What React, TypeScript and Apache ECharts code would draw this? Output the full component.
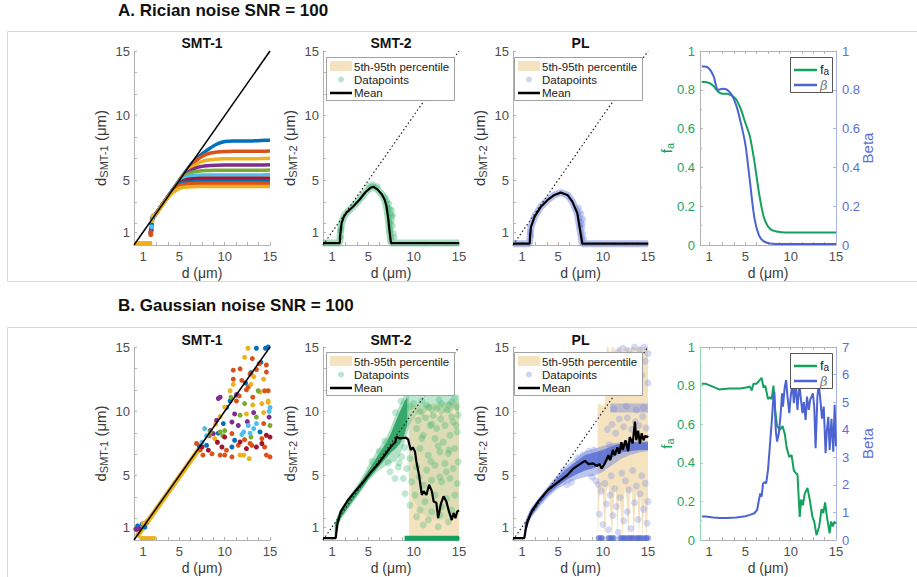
import React, { useEffect, useRef } from "react";
import * as echarts from "echarts";

const FONT = '"Liberation Sans", Arial, Helvetica, sans-serif';
const MC = ["#0072BD", "#D95319", "#EDB120", "#7E2F8E", "#77AC30", "#4DBEEE", "#A2142F"];
const GREEN = "#13a15d";
const BLUE = "#4c63d2";
const WHEAT = "#F5E3BF";
const AXC = "#b3b3b3";
const LBL = "#4d4d4d";

const xLabelVals = [1, 5, 10, 15];
const yLabelVals = [1, 5, 10, 15];
const xTickVals = [1, 2.5, 3.75, 5, 6.25, 7.5, 8.75, 10, 11.25, 12.5, 13.75, 15];
const yTickVals = [1, 1.67, 3.33, 5, 6.67, 8.33, 10, 11.67, 13.33, 15];
const identityLine = [[0, 0], [15, 15]];

// ---------- A. SMT-1 ----------
const a1D = [1.9, 2.5, 3, 4, 5, 5.5, 6, 6.5, 7, 7.5, 8, 9, 10, 11, 12, 13, 14, 15];
const a1Curves = [
  [1.9, 2.5, 3, 4, 5, 5.5, 5.97, 6.4, 6.75, 7.05, 7.3, 7.75, 8.0, 8.05, 8.05, 8.05, 8.08, 8.1],
  [1.9, 2.5, 3, 4, 5, 5.45, 5.88, 6.28, 6.6, 6.85, 7.02, 7.17, 7.22, 7.24, 7.25, 7.25, 7.25, 7.27],
  [1.9, 2.5, 3, 4, 4.97, 5.4, 5.78, 6.06, 6.3, 6.45, 6.55, 6.63, 6.66, 6.67, 6.67, 6.67, 6.68, 6.7],
  [1.9, 2.5, 3, 4, 4.95, 5.35, 5.64, 5.86, 6.0, 6.08, 6.13, 6.17, 6.18, 6.18, 6.18, 6.18, 6.18, 6.2],
  [1.9, 2.5, 3, 4, 4.92, 5.28, 5.5, 5.63, 5.7, 5.74, 5.76, 5.78, 5.78, 5.78, 5.78, 5.78, 5.78, 5.8],
  [1.9, 2.5, 3, 3.98, 4.86, 5.15, 5.3, 5.37, 5.4, 5.42, 5.42, 5.42, 5.42, 5.42, 5.42, 5.42, 5.42, 5.43],
  [1.9, 2.5, 3, 3.96, 4.78, 4.98, 5.08, 5.13, 5.15, 5.16, 5.16, 5.16, 5.16, 5.16, 5.16, 5.16, 5.16, 5.17],
  [1.9, 2.5, 3, 3.95, 4.7, 4.83, 4.88, 4.9, 4.92, 4.92, 4.92, 4.92, 4.92, 4.92, 4.92, 4.92, 4.92, 4.93],
  [1.9, 2.5, 3, 3.93, 4.58, 4.69, 4.73, 4.76, 4.77, 4.77, 4.77, 4.77, 4.77, 4.77, 4.77, 4.77, 4.77, 4.78],
  [1.88, 2.46, 2.95, 3.88, 4.38, 4.46, 4.49, 4.51, 4.52, 4.52, 4.52, 4.52, 4.52, 4.52, 4.52, 4.52, 4.52, 4.53],
];
const a1CurveColor = [0, 1, 2, 3, 4, 5, 6, 0, 1, 2];
const a1Floor = [[0, 0.15], [2.0, 0.15]];
const a1Cluster = [[1.85, 1.0], [1.95, 1.6], [2.05, 2.1], [1.85, 0.8], [1.9, 1.3], [1.9, 1.15], [2.0, 1.9], [2.1, 2.25], [1.95, 1.4], [1.85, 0.95]];
const a1ClusterColor = [0, 0, 0, 1, 1, 3, 2, 2, 5, 1];

// ---------- A. SMT-2 ----------
const a2MeanD = [0, 1.85, 1.9, 2.05, 2.3, 2.6, 3.3, 4.0, 4.7, 5.2, 5.55, 6.0, 6.5, 6.8, 7.0, 7.2, 7.35, 7.5, 15];
const a2Mean = [0.15, 0.15, 0.8, 1.7, 2.2, 2.5, 2.96, 3.48, 4.1, 4.4, 4.5, 4.3, 3.9, 3.5, 3.0, 2.0, 1.0, 0.15, 0.15];
const a2Extra = [[7.4, 2.8], [7.5, 2.4], [7.6, 1.9], [7.7, 1.5], [7.5, 1.2], [7.8, 0.9], [7.3, 3.2], [7.6, 2.2], [7.9, 0.6], [6.9, 3.7], [7.1, 3.4], [1.9, 1.1], [1.95, 0.6], [2.0, 1.3], [5.5, 4.7], [5.0, 4.6], [6.0, 4.55], [7.6, 2.7], [7.7, 2.3], [7.45, 1.7], [7.2, 2.9]];
const a2BandD = [6.8, 7.0, 7.2, 7.4, 7.6, 7.8];
const a2BandLo = [3.2, 2.2, 0.5, 0.15, 0.15, 0.15];
const a2BandHi = [3.7, 3.3, 3.0, 2.4, 1.2, 0.3];

// ---------- A. PL ----------
const plAMeanD = [0, 1.85, 1.9, 2.0, 2.4, 3.1, 3.85, 4.6, 5.3, 6.05, 6.6, 7.15, 7.45, 7.7, 15];
const plAMean = [0.1, 0.1, 0.7, 1.4, 2.2, 2.96, 3.48, 3.87, 4.05, 3.87, 3.35, 2.45, 1.16, 0.1, 0.1];
const plAExtra = [[7.4, 2.6], [7.5, 2.1], [7.6, 1.8], [7.7, 1.3], [7.8, 0.9], [7.5, 1.5], [7.3, 2.9], [7.8, 2.0], [2.0, 0.7], [1.9, 1.0], [7.9, 0.5], [7.6, 2.4], [7.75, 1.6]];
const plABandD = [7.0, 7.3, 7.5, 7.7, 7.9];
const plABandLo = [2.6, 1.2, 0.1, 0.1, 0.1];
const plABandHi = [3.1, 2.6, 2.0, 1.0, 0.3];

// ---------- A. fa / beta ----------
const faAD = [0.2, 0.5, 1, 1.5, 2, 2.5, 3, 3.5, 4, 4.5, 5, 5.5, 6, 6.5, 7, 7.5, 8, 9, 10, 12, 15];
const faA = [0.84, 0.84, 0.835, 0.82, 0.79, 0.78, 0.78, 0.77, 0.75, 0.7, 0.63, 0.56, 0.43, 0.27, 0.15, 0.095, 0.075, 0.066, 0.065, 0.065, 0.065];
const betaA = [0.92, 0.92, 0.91, 0.87, 0.8, 0.805, 0.8, 0.775, 0.72, 0.63, 0.52, 0.33, 0.14, 0.05, 0.02, 0.01, 0.006, 0.005, 0.005, 0.005, 0.005];

// ---------- B. SMT-1 ----------
const b1Blue = [[9.85, 9.05], [13.9, 8.4], [11.1, 7.75], [8.0, 7.36], [10.8, 7.23], [13.5, 14.9], [14.5, 14.9], [14.0, 13.8], [7.2, 7.3], [10.2, 10.3], [10.6, 10.8], [12.3, 12.2], [12.9, 13.0], [14.8, 15.0], [9.3, 8.3], [0.4, 1.1], [0.9, 1.25], [1.2, 1.0]];
const b1Orange = [[12.4, 11.68], [11.6, 11.2], [11.3, 10.8], [13.1, 11.1], [14.4, 11.6], [14.3, 9.05], [10.8, 8.27], [12.2, 7.8], [12.8, 7.5], [14.1, 7.88], [6.9, 7.5], [10.2, 6.98], [11.5, 7.36], [13.0, 7.36], [14.4, 7.23], [7.6, 6.6], [8.6, 6.7], [9.5, 6.6], [10.0, 6.6], [10.8, 6.46], [14.6, 6.6], [15.0, 6.46], [13.05, 14.1], [14.6, 13.6], [10.95, 13.2], [11.7, 13.3], [13.5, 13.25], [14.6, 13.05], [10.95, 12.5], [11.9, 12.4], [12.6, 11.9], [14.8, 11.6], [12.8, 12.9], [13.8, 13.7], [0.3, 0.8], [1.4, 1.4], [7.3, 7.0], [8.3, 8.1]];
const b1Yellow = [[10.95, 12.1], [12.9, 12.1], [10.0, 10.33], [13.1, 10.5], [14.1, 10.6], [14.8, 10.7], [13.9, 11.5], [12.4, 9.8], [8.9, 7.88], [11.7, 6.6], [12.1, 6.6], [12.7, 6.33], [12.57, 14.9], [12.2, 14.2], [13.2, 12.7], [14.3, 12.5], [10.6, 11.6], [11.3, 11.25], [14.8, 10.8], [9.0, 9.0], [9.5, 9.6], [1.0, 1.3], [1.5, 1.5], [14.3, 9.9]];
const b1Purple = [[9.3, 11.0], [11.1, 9.8], [14.9, 9.55], [9.1, 9.3], [10.8, 9.17], [11.5, 8.9], [8.75, 8.27], [9.5, 11.1], [8.4, 8.5], [11.3, 11.3], [0.2, 0.85], [0.6, 0.9], [12.5, 9.2], [13.2, 9.9]];
const b1Green = [[10.7, 11.1], [12.2, 10.6], [11.7, 9.7], [13.5, 9.55], [15.0, 8.9], [8.4, 8.4], [9.5, 8.4], [10.0, 8.5], [13.7, 11.6], [9.8, 8.1], [12.9, 8.0]];
const b1Cyan = [[15.0, 10.3], [12.6, 8.9], [13.5, 9.05], [7.8, 8.66], [12.1, 8.4], [12.8, 8.3], [13.2, 8.66], [7.5, 7.6], [8.0, 8.1], [14.9, 10.0], [11.9, 8.2]];
const b1DarkRed = [[14.6, 8.14], [10.0, 8.0], [11.7, 7.62], [15.0, 8.0], [7.5, 7.23], [9.7, 7.23], [13.5, 7.23], [14.1, 7.5], [8.2, 6.98], [12.4, 7.1], [9.2, 7.6]];
const b1DiagBand = [[0.3, 0.25], [7.2, 7.1]];
const b1Floor = [[0.6, 0.15], [2.4, 0.15]];

// ---------- B. SMT-2 ----------
const b2Mean = [[0, 0.15], [1.4, 0.15], [1.6, 1.3], [1.95, 2.2], [2.7, 3.05], [3.5, 3.75], [4.6, 4.65], [5.2, 5.2], [6.0, 5.85], [6.65, 6.45], [7.6, 7.35], [7.97, 7.6], [8.1, 8.0], [8.5, 7.9], [9.15, 7.95], [9.4, 7.8], [9.67, 7.0], [9.9, 7.2], [10.15, 6.85], [10.3, 6.1], [10.6, 5.0], [10.9, 3.5], [11.1, 3.8], [11.4, 3.5], [11.7, 4.3], [12.0, 3.8], [12.2, 3.0], [12.5, 2.9], [12.7, 1.7], [13.0, 2.8], [13.3, 3.4], [13.6, 3.0], [13.9, 2.2], [14.2, 1.55], [14.4, 2.1], [14.6, 1.7], [14.8, 2.2], [15.0, 2.3]];
const b2HaloD = [1.3, 1.6, 2, 3, 4, 5, 6, 7, 7.5, 8, 8.5, 9, 9.5];
const b2HaloLo = [0.2, 1.0, 1.6, 2.6, 3.6, 4.6, 5.3, 5.8, 6.0, 6.1, 6.6, 7.6, 8.8];
const b2HaloHi = [1.3, 1.9, 2.5, 3.5, 4.5, 5.8, 7.0, 8.0, 8.8, 9.7, 10.6, 11.3, 11.3];
const b2CoreD = [1.3, 1.6, 2, 3, 4, 5, 6, 7, 7.5, 8, 8.5, 9, 9.3];
const b2CoreLo = [0.3, 1.1, 1.75, 2.75, 3.7, 4.7, 5.55, 6.4, 6.8, 7.1, 7.5, 8.2, 9.0];
const b2CoreHi = [1.2, 1.8, 2.35, 3.3, 4.35, 5.4, 6.5, 7.6, 8.3, 9.2, 10.0, 10.8, 11.1];
const b2TopD = [9.3, 10, 10.5, 11, 11.5, 12, 12.5, 13, 13.5, 14, 14.5, 15];
const b2TopLo = [8.8, 9.4, 9.9, 9.6, 10.1, 9.8, 10.2, 9.6, 10.0, 9.8, 10.3, 9.5];
const b2TopHi = [11.3, 11.3, 11.3, 11.3, 11.3, 11.3, 11.3, 11.3, 11.3, 11.3, 11.3, 11.3];
const b2MidD = [9.3, 10, 11, 12, 13, 14, 15];
const b2MidLo = [5.5, 3.0, 2.0, 1.6, 1.5, 1.8, 2.0];
const b2MidHi = [9.0, 9.5, 9.7, 9.8, 9.7, 9.8, 9.6];
const b2BandD = [9.5, 15];
const b2BandLo = [0.13, 0.13];
const b2BandHi = [10.4, 10.8];
const b2Floor = [[9.0, 0.13], [15, 0.13]];
const b2Sparse = [[10.69, 9.95], [11.43, 10.47], [12.16, 9.69], [12.53, 10.2], [13.08, 10.6], [13.64, 10.08], [14.19, 10.72], [14.74, 10.34], [14.92, 9.69], [11.8, 8.91], [12.53, 8.66], [13.45, 8.91], [14.37, 9.17], [10.33, 8.66], [11.06, 8.14], [12.35, 7.88], [13.27, 7.62], [14.0, 8.14], [14.81, 8.4], [10.69, 7.11], [11.61, 6.59], [12.9, 6.85], [13.82, 6.72], [14.55, 7.11], [9.59, 6.33], [10.33, 5.68], [11.43, 5.43], [12.35, 5.81], [13.45, 5.94], [14.37, 5.56], [14.92, 6.07], [8.86, 4.78], [9.78, 4.52], [11.06, 4.26], [11.98, 4.65], [13.08, 4.52], [14.0, 4.78], [14.81, 4.39], [9.04, 3.62], [10.14, 3.49], [11.25, 2.97], [12.35, 3.49], [13.64, 3.23], [14.55, 3.49], [9.59, 2.71], [10.69, 2.32], [11.98, 2.2], [13.08, 2.58], [14.19, 2.32], [10.33, 1.81], [11.61, 1.55], [12.9, 1.94], [13.82, 1.42], [11.06, 1.16], [12.71, 1.03], [8.3, 5.68], [8.67, 6.46], [7.39, 5.3], [7.94, 4.78], [9.22, 5.56], [10.0, 10.6], [10.9, 10.8], [11.7, 10.3], [12.8, 10.9], [13.9, 10.5], [14.5, 11.0], [9.6, 10.4], [10.5, 9.3], [11.3, 9.5], [12.0, 9.0], [13.0, 9.4], [14.2, 9.6], [14.7, 8.9], [10.9, 7.9], [12.7, 7.3], [13.9, 7.0], [11.9, 6.1], [10.6, 4.9], [12.9, 4.9], [13.6, 5.3], [6.2, 6.9], [6.8, 7.7], [5.4, 6.1], [7.2, 6.0], [8.0, 9.9], [8.6, 10.8], [9.0, 7.2], [8.4, 6.0]];

// ---------- B. PL ----------
const plBMean = [[0, 0.15], [1.26, 0.15], [1.4, 0.78], [1.6, 1.4], [2.07, 2.2], [2.8, 3.0], [3.9, 3.9], [5.0, 4.5], [5.97, 5.0], [6.7, 5.55], [7.44, 5.9], [8.0, 6.15], [8.4, 5.9], [8.9, 5.95], [9.3, 5.75], [9.6, 5.9], [9.85, 5.55], [10.2, 5.95], [10.6, 6.6], [10.8, 6.2], [11.1, 7.0], [11.3, 6.6], [11.6, 7.2], [11.8, 6.7], [12.05, 7.6], [12.2, 7.0], [12.5, 7.75], [12.8, 6.9], [12.97, 8.0], [13.3, 7.5], [13.55, 9.2], [13.7, 7.75], [13.9, 8.5], [14.1, 7.5], [14.3, 8.3], [14.5, 7.75], [14.7, 8.1], [14.9, 8.0], [15, 8.1]];
const plBHaloD = [1.3, 1.6, 2, 3, 4, 5, 6, 7, 8, 9, 10, 11, 12, 13, 14, 15];
const plBHaloLo = [0.2, 1.0, 1.7, 2.6, 3.4, 4.0, 4.4, 4.7, 4.9, 5.0, 5.3, 5.8, 6.3, 6.6, 6.8, 6.9];
const plBHaloHi = [1.3, 1.9, 2.5, 3.4, 4.3, 5.1, 5.8, 6.4, 6.9, 7.1, 7.3, 7.5, 7.6, 7.7, 7.7, 7.7];
const plBCoreD = [1.3, 1.6, 2, 3, 4, 5, 6, 7, 8, 9, 10, 11, 12, 13, 14, 15];
const plBCoreLo = [0.3, 1.1, 1.85, 2.8, 3.6, 4.2, 4.7, 5.1, 5.4, 5.6, 5.9, 6.4, 6.8, 6.9, 7.0, 7.0];
const plBCoreHi = [1.2, 1.8, 2.4, 3.25, 4.15, 4.9, 5.55, 6.1, 6.6, 6.8, 7.0, 7.3, 7.5, 7.6, 7.6, 7.6];
const plBUpD = [10.8, 15];
const plBUpLo = [9.9, 9.9];
const plBUpHi = [10.6, 10.6];
const plBBandD = [9.4, 9.6, 9.8, 10.0, 10.2, 10.4, 10.6, 10.8, 11.0, 11.2, 11.4, 11.6, 11.8, 12.0, 12.2, 12.4, 12.6, 12.8, 13.0, 13.2, 13.4, 13.6, 13.8, 14.0, 14.2, 14.4, 14.6, 14.8, 15.0];
const plBBandLo = [0.1, 3.2, 4.0, 3.5, 0.1, 3.8, 4.2, 2.5, 0.1, 3.0, 4.5, 0.1, 3.8, 2.0, 0.1, 4.0, 3.2, 0.1, 3.5, 4.2, 0.1, 2.8, 4.0, 0.1, 3.5, 0.1, 3.0, 0.1, 2.5];
const plBBandHi = [10.5, 10.6, 10.5, 10.4, 10.6, 15, 15, 14.5, 15, 15, 13.8, 15, 15, 15, 14.2, 15, 15, 15, 14.5, 15, 15, 15, 14.8, 15, 15, 14.6, 15, 15, 15];
const plBSparse = [[9.6, 2.0], [9.8, 3.8], [10.0, 1.2], [10.2, 4.4], [10.4, 2.8], [10.6, 0.8], [10.8, 3.5], [10.9, 5.0], [11.1, 1.9], [11.3, 4.0], [11.5, 2.6], [11.7, 0.6], [11.9, 3.3], [12.1, 5.2], [12.3, 1.5], [12.5, 4.6], [12.7, 2.2], [12.9, 3.9], [13.1, 0.9], [13.3, 5.4], [13.5, 2.9], [13.7, 4.2], [13.9, 1.6], [14.1, 3.6], [14.3, 5.0], [14.5, 2.4], [14.7, 4.4], [14.9, 1.3], [15.0, 3.0], [10.5, 8.6], [11.0, 9.0], [11.4, 8.3], [11.8, 9.4], [12.3, 8.8], [12.7, 9.5], [13.2, 8.6], [13.6, 9.2], [14.0, 8.9], [14.4, 9.6], [14.8, 8.7], [10.8, 11.5], [11.3, 12.4], [11.9, 11.8], [12.4, 13.0], [12.9, 12.0], [13.4, 13.5], [13.8, 11.6], [14.3, 12.8], [14.7, 13.9], [15.0, 12.2], [11.6, 14.6], [12.2, 14.9], [12.9, 14.7], [13.5, 15.0], [14.1, 14.8], [14.6, 15.0], [15.0, 14.5], [9.2, 4.6], [8.8, 4.9], [9.5, 4.3], [10.1, 6.8], [10.7, 7.4], [8.4, 6.9], [9.0, 7.0], [7.8, 6.6], [11.2, 10.2], [12.6, 10.4], [13.7, 10.1], [14.5, 10.3], [6.5, 4.5], [7.2, 6.4], [5.6, 5.4], [6.0, 4.3]];
const plBFloorD = [9.5, 9.7, 9.9, 10.6, 10.8, 11.0, 11.2, 11.9, 12.1, 12.3, 12.5, 12.8, 13.0, 13.2, 13.4, 13.7, 13.9, 14.1, 14.3, 14.6, 14.8, 15.0];
const plBFloorV = 0.15;

// ---------- B. fa / beta ----------
const faB = [[0.2, 0.81], [0.6, 0.81], [1.4, 0.795], [2.1, 0.78], [3.2, 0.785], [4.4, 0.785], [5.1, 0.79], [5.5, 0.795], [5.7, 0.775], [5.9, 0.81], [6.25, 0.81], [6.6, 0.83], [6.8, 0.84], [7.0, 0.79], [7.2, 0.8], [7.5, 0.73], [7.7, 0.74], [7.9, 0.73], [8.1, 0.8], [8.3, 0.67], [8.5, 0.59], [8.8, 0.57], [9.1, 0.59], [9.35, 0.55], [9.55, 0.48], [9.85, 0.43], [10.1, 0.44], [10.35, 0.36], [10.6, 0.345], [10.75, 0.34], [11.0, 0.12], [11.15, 0.21], [11.35, 0.18], [11.55, 0.24], [11.85, 0.27], [12.1, 0.21], [12.4, 0.12], [12.6, 0.095], [12.85, 0.025], [13.15, 0.07], [13.4, 0.16], [13.6, 0.14], [13.8, 0.195], [14.0, 0.12], [14.3, 0.035], [14.45, 0.095], [14.65, 0.07], [14.8, 0.095], [15.0, 0.085]];
const betaB = [[0.2, 0.85], [0.6, 0.85], [1.5, 0.82], [2.2, 0.8], [3.0, 0.8], [4.0, 0.82], [5.0, 0.86], [5.5, 0.91], [6.0, 0.97], [6.3, 1.09], [6.5, 1.45], [6.65, 1.69], [6.8, 1.57], [6.95, 2.05], [7.15, 2.1], [7.3, 2.05], [7.5, 2.54], [7.7, 3.39], [7.9, 4.23], [8.1, 5.2], [8.2, 5.38], [8.35, 3.99], [8.5, 3.57], [8.7, 3.87], [8.9, 4.59], [9.05, 5.32], [9.15, 4.84], [9.35, 5.56], [9.5, 5.8], [9.65, 5.2], [9.85, 4.6], [10.0, 5.2], [10.2, 5.68], [10.35, 4.96], [10.55, 5.68], [10.75, 4.72], [10.95, 5.68], [11.1, 5.2], [11.3, 4.6], [11.45, 5.0], [11.65, 4.35], [11.8, 5.2], [12.0, 4.72], [12.15, 5.08], [12.45, 5.32], [12.6, 4.84], [12.75, 3.33], [12.95, 5.2], [13.1, 5.68], [13.3, 5.0], [13.45, 4.4], [13.65, 4.84], [13.85, 3.15], [14.0, 3.99], [14.15, 4.47], [14.3, 3.27], [14.5, 4.4], [14.7, 3.2], [14.85, 4.9], [15.0, 3.4]];

// ---------- layout ----------
const COL_LEFT = [134, 323, 513, 700];
const COL_W = [136, 136, 135, 136];
const ROW_TOP = [51, 347];
const ROW_H = [194, 193];

function gridBox(i: number) {
  const r = Math.floor(i / 4), c = i % 4;
  return { left: COL_LEFT[c], top: ROW_TOP[r], width: COL_W[c], height: ROW_H[r] };
}

function xAx(gi: number) {
  return {
    type: "value", gridIndex: gi, min: 0, max: 15, position: "bottom",
    axisLine: { show: true, onZero: false, lineStyle: { color: AXC, width: 1 } },
    axisTick: { show: true, inside: true, length: 3, customValues: xTickVals, lineStyle: { color: AXC } },
    axisLabel: { show: true, customValues: xLabelVals, margin: 5, fontSize: 13, color: LBL, fontFamily: FONT },
    splitLine: { show: false },
  };
}
function topAx(gi: number) {
  return {
    type: "value", gridIndex: gi, min: 0, max: 15, position: "top",
    axisLine: { show: true, onZero: false, lineStyle: { color: AXC, width: 1 } },
    axisTick: { show: true, inside: true, length: 3, customValues: xTickVals, lineStyle: { color: AXC } },
    axisLabel: { show: false },
    splitLine: { show: false },
  };
}
function smtY(gi: number) {
  return {
    type: "value", gridIndex: gi, min: 0, max: 15,
    axisLine: { show: true, onZero: false, lineStyle: { color: AXC, width: 1 } },
    axisTick: { show: true, inside: true, length: 3, customValues: yTickVals, lineStyle: { color: AXC } },
    axisLabel: { show: true, customValues: yLabelVals, margin: 4, fontSize: 13, color: LBL, fontFamily: FONT },
    splitLine: { show: false },
  };
}
function faLeft(gi: number, lineColor: string) {
  return {
    type: "value", gridIndex: gi, min: 0, max: 1, interval: 0.2,
    axisLine: { show: true, onZero: false, lineStyle: { color: lineColor, width: 1 } },
    axisTick: { show: true, inside: true, length: 3, lineStyle: { color: lineColor } },
    minorTick: { show: true, splitNumber: 2, length: 2, lineStyle: { color: lineColor } },
    axisLabel: { show: true, margin: 5, fontSize: 13, color: "#1aa463", fontFamily: FONT },
    splitLine: { show: false }, minorSplitLine: { show: false },
  };
}
function faRight(gi: number, max: number, interval: number) {
  return {
    type: "value", gridIndex: gi, min: 0, max, interval, position: "right",
    axisLine: { show: true, onZero: false, lineStyle: { color: "#a9b4ee", width: 1 } },
    axisTick: { show: true, inside: true, length: 3, lineStyle: { color: "#a9b4ee" } },
    axisLabel: { show: true, margin: 6, fontSize: 13, color: "#5b6fd6", fontFamily: FONT },
    splitLine: { show: false },
  };
}

function line(xi: number, yi: number, data: any, color: string, width: number, extra: any = {}) {
  return {
    type: "line", xAxisIndex: xi, yAxisIndex: yi, data, symbol: "none", silent: true,
    lineStyle: { color, width, ...(extra.lineStyle || {}) },
    z: extra.z ?? 3, smooth: extra.smooth ?? false,
  };
}
function scatter(xi: number, yi: number, data: any, color: string, size: number, opacity: number, z = 2) {
  return {
    type: "scatter", xAxisIndex: xi, yAxisIndex: yi, data, symbol: "circle", symbolSize: size, silent: true,
    itemStyle: { color, opacity }, z,
  };
}
function band(xi: number, yi: number, d: number[], lo: number[], hi: number[], color: string, opacity: number, z = 1) {
  return {
    type: "custom", xAxisIndex: xi, yAxisIndex: yi, silent: true, z,
    data: d.map((x, i) => [x, lo[i], hi[i]]),
    encode: { x: 0, y: [1, 2] },
    renderItem: (params: any, api: any) => {
      if (params.dataIndex !== 0) return null;
      const top = d.map((x, i) => api.coord([x, hi[i]]));
      const bot = d.map((x, i) => api.coord([x, lo[i]])).reverse();
      return { type: "polygon", shape: { points: top.concat(bot) }, style: { fill: color, opacity } };
    },
  };
}
const zip = (d: number[], v: number[]) => d.map((x, i) => [x, v[i]]);

function ylab(x: number, y: number, main: string, sub: string, tail: string, color: string) {
  return {
    type: "text", x, y, rotation: Math.PI / 2, z: 50, silent: true,
    style: {
      text: `{m|${main}}{s|${sub}}{m|${tail}}`, align: "center", verticalAlign: "middle",
      rich: {
        m: { fontSize: 15, fontFamily: FONT, fill: color, lineHeight: 18 },
        s: { fontSize: 11, fontFamily: FONT, fill: color, lineHeight: 12, verticalAlign: "bottom", padding: [12, 0, 0, 0] },
      },
    },
  };
}
function txt(x: number, y: number, text: string, font: string, fill: string, align = "center", z = 50) {
  return { type: "text", x, y, z, silent: true, style: { text, font, fill, align, verticalAlign: "middle" } };
}
function smtLegend(x: number, y: number, dotColor: string) {
  const f = `11.5px ${FONT}`;
  return [
    { type: "rect", z: 100, silent: true, shape: { x: x + 0.5, y: y + 0.5, width: 128, height: 43 }, style: { fill: "#fff", stroke: "#a0a0a0", lineWidth: 1 } },
    { type: "rect", z: 101, silent: true, shape: { x: x + 4, y: y + 4, width: 22, height: 10 }, style: { fill: WHEAT } },
    txt(x + 28, y + 9.5, "5th-95th percentile", f, "#222", "left", 101),
    { type: "circle", z: 101, silent: true, shape: { cx: x + 15, cy: y + 22.5, r: 3 }, style: { fill: dotColor, opacity: 0.35 } },
    txt(x + 28, y + 23, "Datapoints", f, "#222", "left", 101),
    { type: "line", z: 101, silent: true, shape: { x1: x + 4, y1: y + 36, x2: x + 26, y2: y + 36 }, style: { stroke: "#000", lineWidth: 2.5 } },
    txt(x + 28, y + 36, "Mean", f, "#222", "left", 101),
  ];
}
function faLegend(x: number, y: number) {
  return [
    { type: "rect", z: 100, silent: true, shape: { x: x + 0.5, y: y + 0.5, width: 42, height: 35 }, style: { fill: "#fff", stroke: "#555", lineWidth: 1 } },
    { type: "line", z: 101, silent: true, shape: { x1: x + 4, y1: y + 13, x2: x + 27, y2: y + 13 }, style: { stroke: GREEN, lineWidth: 2.5 } },
    {
      type: "text", z: 101, x: x + 30, y: y + 12, silent: true,
      style: {
        text: "{m|f}{s|a}", align: "left", verticalAlign: "middle",
        rich: {
          m: { fontSize: 13, fontFamily: FONT, fill: "#222", lineHeight: 15 },
          s: { fontSize: 10, fontFamily: FONT, fill: "#222", lineHeight: 10, verticalAlign: "bottom", padding: [9, 0, 0, 0] },
        },
      },
    },
    { type: "line", z: 101, silent: true, shape: { x1: x + 4, y1: y + 28, x2: x + 27, y2: y + 28 }, style: { stroke: BLUE, lineWidth: 2.5 } },
    txt(x + 30, y + 28, "β", `italic 13px "DejaVu Serif", serif`, "#777", "left", 101),
  ];
}

function buildOption() {
  const grid = [0, 1, 2, 3, 4, 5, 6, 7].map(gridBox);
  const xAxis: any[] = [0, 1, 2, 3, 4, 5, 6, 7].map(xAx);
  xAxis.push(topAx(3), topAx(7));
  const yAxis: any[] = [smtY(0), smtY(1), smtY(2), faLeft(3, AXC), smtY(4), smtY(5), smtY(6), faLeft(7, "#9ad6b5"), faRight(3, 1, 0.2), faRight(7, 7, 1)];
  const dotted = { z: 4, lineStyle: { type: [1.5, 2.5] } };

  const series: any[] = [];
  // A SMT-1
  series.push(line(0, 0, a1Floor, MC[2], 4, { z: 2 }));
  a1Curves.forEach((c, k) => series.push(line(0, 0, zip(a1D, c), MC[a1CurveColor[k]], 3.5, { z: 2, smooth: 0.2 })));
  a1Cluster.forEach((p, k) => series.push(scatter(0, 0, [p], MC[a1ClusterColor[k]], 5, 1, 3)));
  series.push(line(0, 0, identityLine, "#000", 1.5, { z: 6 }));

  // A SMT-2
  series.push(band(1, 1, a2BandD, a2BandLo, a2BandHi, WHEAT, 1, 1));
  series.push(line(1, 1, zip(a2MeanD, a2Mean), "#2fb36c", 7, { z: 2, lineStyle: { opacity: 0.45 } }));
  series.push(scatter(1, 1, a2Extra, "#2fb36c", 6, 0.35, 2));
  series.push(line(1, 1, identityLine, "#222", 1.2, dotted));
  series.push(line(1, 1, zip(a2MeanD, a2Mean), "#000", 2.2, { z: 5 }));

  // A PL
  series.push(band(2, 2, plABandD, plABandLo, plABandHi, WHEAT, 1, 1));
  series.push(line(2, 2, zip(plAMeanD, plAMean), "#7084e0", 7, { z: 2, lineStyle: { opacity: 0.5 } }));
  series.push(scatter(2, 2, plAExtra, "#7084e0", 6, 0.35, 2));
  series.push(line(2, 2, identityLine, "#222", 1.2, dotted));
  series.push(line(2, 2, zip(plAMeanD, plAMean), "#000", 2.2, { z: 5 }));

  // A fa
  series.push(line(3, 3, zip(faAD, faA), GREEN, 2, { smooth: 0.3 }));
  series.push(line(8, 8, zip(faAD, betaA), BLUE, 2, { smooth: 0.3 }));

  // B SMT-1
  series.push(line(4, 4, b1Floor, MC[2], 4, { z: 2 }));
  series.push(line(4, 4, b1DiagBand, MC[2], 5, { z: 2 }));
  const b1Sets = [b1Blue, b1Orange, b1Yellow, b1Purple, b1Green, b1Cyan, b1DarkRed];
  b1Sets.forEach((s, k) => series.push(scatter(4, 4, s, MC[k], 5, 1, 3)));
  series.push(line(4, 4, identityLine, "#000", 1.5, { z: 6 }));

  // B SMT-2
  series.push(band(5, 5, b2BandD, b2BandLo, b2BandHi, WHEAT, 1, 1));
  series.push(band(5, 5, b2MidD, b2MidLo, b2MidHi, "#3cb371", 0.13, 2));
  series.push(band(5, 5, b2TopD, b2TopLo, b2TopHi, "#3cb371", 0.32, 2));
  series.push(band(5, 5, b2HaloD, b2HaloLo, b2HaloHi, "#3cb371", 0.4, 2));
  series.push(band(5, 5, b2CoreD, b2CoreLo, b2CoreHi, "#1a9a52", 0.8, 2));
  series.push(scatter(5, 5, b2Sparse, "#2fb36c", 7, 0.3, 3));
  series.push(line(5, 5, b2Floor, GREEN, 5, { z: 3 }));
  series.push(line(5, 5, identityLine, "#222", 1.2, dotted));
  series.push(line(5, 5, b2Mean, "#000", 2.2, { z: 5 }));

  // B PL
  series.push(band(6, 6, plBBandD, plBBandLo, plBBandHi, WHEAT, 1, 1));
  series.push(band(6, 6, plBUpD, plBUpLo, plBUpHi, "#6a7fdc", 0.4, 2));
  series.push(band(6, 6, plBHaloD, plBHaloLo, plBHaloHi, "#6a7fdc", 0.45, 2));
  series.push(band(6, 6, plBCoreD, plBCoreLo, plBCoreHi, "#4a62d0", 0.75, 2));
  series.push(scatter(6, 6, plBSparse, "#7084e0", 7, 0.3, 3));
  series.push(scatter(6, 6, plBFloorD.map((d) => [d, plBFloorV]), "#5068d2", 6, 0.6, 3));
  series.push(line(6, 6, identityLine, "#222", 1.2, dotted));
  series.push(line(6, 6, plBMean, "#000", 2.2, { z: 5 }));

  // B fa
  series.push(line(7, 7, faB, GREEN, 2));
  series.push(line(9, 9, betaB, BLUE, 2));

  const g: any[] = [];
  g.push({ type: "rect", z: 0, silent: true, shape: { x: 7.5, y: 31.5, width: 915, height: 250 }, style: { fill: "none", stroke: "#d8d8d8", lineWidth: 1 } });
  g.push({ type: "rect", z: 0, silent: true, shape: { x: 7.5, y: 327.5, width: 915, height: 260 }, style: { fill: "none", stroke: "#d8d8d8", lineWidth: 1 } });
  g.push(txt(118, 10, "A. Rician noise SNR = 100", `bold 17px ${FONT}`, "#111", "left"));
  g.push(txt(118, 305, "B. Gaussian noise SNR = 100", `bold 17px ${FONT}`, "#111", "left"));
  const titles = ["SMT-1", "SMT-2", "PL"];
  [0, 1].forEach((r) => {
    const ty = r === 0 ? 43 : 340;
    const xl = r === 0 ? 273 : 568;
    const cy = ROW_TOP[r] + ROW_H[r] / 2;
    titles.forEach((t, c) => g.push(txt(COL_LEFT[c] + COL_W[c] / 2, ty, t, `bold 14px ${FONT}`, "#111")));
    for (let c = 0; c < 4; c++) g.push(txt(COL_LEFT[c] + COL_W[c] / 2, xl, "d (μm)", `14px ${FONT}`, "#3a3a3a"));
    g.push(ylab(COL_LEFT[0] - 34, cy, "d", "SMT-1", " (μm)", "#3a3a3a"));
    g.push(ylab(COL_LEFT[1] - 34, cy, "d", "SMT-2", " (μm)", "#3a3a3a"));
    g.push(ylab(COL_LEFT[2] - 34, cy, "d", "SMT-2", " (μm)", "#3a3a3a"));
    g.push(ylab(COL_LEFT[3] - 34, cy, "f", "a", "", "#1aa463"));
    g.push({ type: "text", x: 867, y: cy, rotation: Math.PI / 2, z: 50, silent: true, style: { text: "Beta", font: `15px ${FONT}`, fill: "#5b6fd6", align: "center", verticalAlign: "middle" } });
    const ly = r === 0 ? 57 : 352;
    g.push(...smtLegend(326, ly, "#2fb36c"));
    g.push(...smtLegend(514, ly, "#7084e0"));
    g.push(...faLegend(790, r === 0 ? 57 : 353));
  });

  return { animation: false, backgroundColor: "#fff", grid, xAxis, yAxis, series, graphic: { elements: g } };
}

export default function App() {
  const ref = useRef<HTMLDivElement>(null);
  useEffect(() => {
    const chart = echarts.init(ref.current as HTMLDivElement, null, { renderer: "svg" });
    chart.setOption(buildOption() as any);
    return () => chart.dispose();
  }, []);
  return <div ref={ref} style={{ position: "absolute", left: 0, top: 0, width: 917, height: 577, background: "#fff" }} />;
}
